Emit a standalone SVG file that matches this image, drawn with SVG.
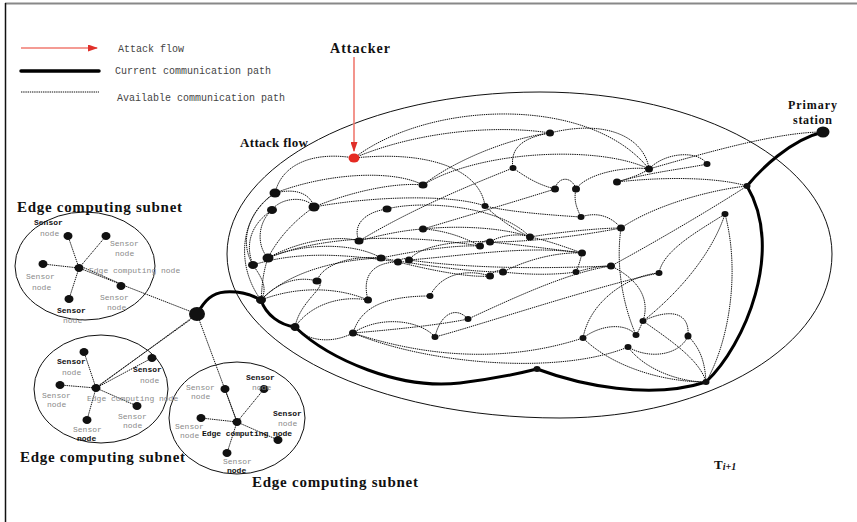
<svg xmlns="http://www.w3.org/2000/svg" width="857" height="522" viewBox="0 0 857 522">
<defs>
<marker id="ah" markerWidth="10" markerHeight="7" refX="9" refY="3.5" orient="auto" markerUnits="userSpaceOnUse">
<path d="M0,0 L10,3.5 L0,7 z" fill="#e0302a"/>
</marker>
<style>
.d{fill:none;stroke:#111;stroke-width:1;stroke-dasharray:1.4 0.8}
.th{fill:none;stroke:#000;stroke-width:3;stroke-linecap:round;stroke-linejoin:round}
.ol{fill:none;stroke:#111;stroke-width:1}
.n{fill:#111}
.g{font-family:"Liberation Mono",monospace;font-size:8px;fill:#8a8a8a}
.bb{font-family:"Liberation Mono",monospace;font-size:8px;font-weight:bold;fill:#111}
.lg{font-family:"Liberation Mono",monospace;font-size:10px;fill:#444}
.t{font-family:"Liberation Serif",serif;font-weight:bold;fill:#111}
.red{stroke:#f07a70;stroke-width:1.6;fill:none}
</style>
</defs>
<rect width="857" height="522" fill="#fff"/>
<line x1="5" y1="3.5" x2="857" y2="3.5" stroke="#888" stroke-width="2"/>
<line x1="5.5" y1="3" x2="5.5" y2="522" stroke="#111" stroke-width="1.5"/>

<g id="legend">
<line class="red" x1="21" y1="48" x2="97" y2="48" marker-end="url(#ah)"/>
<text class="lg" x="118" y="51.5">Attack flow</text>
<line x1="21" y1="71" x2="99" y2="71" stroke="#000" stroke-width="3.5" stroke-linecap="round"/>
<text class="lg" x="115" y="74">Current communication path</text>
<line class="d" x1="21" y1="92" x2="99" y2="92"/>
<text class="lg" x="117" y="101">Available communication path</text>
</g>

<text class="t" x="330" y="53" font-size="14" textLength="60">Attacker</text>
<text class="t" x="240" y="147" font-size="13" textLength="68">Attack flow</text>
<text class="t" x="17" y="212" font-size="15" textLength="165">Edge computing subnet</text>
<text class="t" x="20" y="462" font-size="15" textLength="165">Edge computing subnet</text>
<text class="t" x="252" y="487" font-size="15" textLength="166">Edge computing subnet</text>
<text class="t" x="788" y="109" font-size="12" textLength="49">Primary</text>
<text class="t" x="793" y="124" font-size="12" textLength="39">station</text>
<text class="t" x="714" y="469" font-size="13">T<tspan font-style="italic" font-size="10" dy="1">i+1</tspan></text>

<path class="ol" d="M227,254 C227,164.5 367,92 540,92 C701,92 832,164.5 832,254 C832,345 710,418 560,418 C376,418 227,345 227,254 Z"/>
<ellipse class="ol" cx="85" cy="266" rx="70" ry="54"/>
<ellipse class="ol" cx="101" cy="389" rx="67" ry="54"/>
<ellipse class="ol" cx="237" cy="418" rx="68" ry="56"/>

<g id="connectors">
<line class="red" x1="354" y1="57" x2="354" y2="151" marker-end="url(#ah)"/>
<path class="th" d="M197,314 C205,300 212,293 225,292 C240,291 252,295 261,300 C266,315 280,325 295,327 C330,360 400,390 460,383 C500,378 525,372 537,369 C580,385 650,400 706,382 C745,345 785,250 747,186 C760,170 790,140 823,132"/>
<path class="d" d="M68,236 L79,268 M106,236 L79,268 M43,264 L79,268 M69,299 L79,268 M79,268 L197,314 M80,266 L121,284"/>
<path class="d" d="M84,352 L96,388 M60,385 L96,388 M137,406 L96,388 M87,420 L96,388 M96,388 L152,358 M96,388 L197,314 M98,386 L190,320"/>
<path class="d" d="M225,389 L237,422 M264,389 L237,422 M201,418 L237,422 M278,440 L237,422 M227,453 L237,422 M237,422 L197,314"/>
<path class="d" d="M354,158 C430,100 590,95 649,169"/>
<path class="d" d="M354,158 C420,130 500,125 550,133"/>
<path class="d" d="M354,158 C430,150 480,170 485,206"/>
<path class="d" d="M275,193 C283,160 320,152 354,158"/>
<path class="d" d="M550,133 C610,118 645,140 649,169"/>
<path class="d" d="M550,133 C520,138 510,150 513,168"/>
<path class="d" d="M423,185 C455,160 510,138 550,133"/>
<path class="d" d="M423,185 C480,150 600,145 649,169"/>
<path class="d" d="M275,193 C330,172 395,170 423,185"/>
<path class="d" d="M275,193 C295,188 310,193 314,207"/>
<path class="d" d="M272,210 C280,198 305,195 314,207"/>
<path class="d" d="M314,207 C350,192 395,182 423,185"/>
<path class="d" d="M314,207 C380,195 455,195 485,206"/>
<path class="d" d="M275,193 C250,210 238,240 253,265"/>
<path class="d" d="M272,210 C258,222 256,245 268,258"/>
<path class="d" d="M314,207 C295,220 278,238 268,258"/>
<path class="d" d="M272,210 C250,225 245,245 253,265"/>
<path class="d" d="M359,241 C352,225 365,212 387,209"/>
<path class="d" d="M387,209 C420,200 500,205 530,237"/>
<path class="d" d="M359,241 C380,235 405,230 423,229"/>
<path class="d" d="M423,229 C460,225 505,228 530,237"/>
<path class="d" d="M359,241 C410,210 470,185 513,168"/>
<path class="d" d="M423,229 C470,215 520,200 555,189"/>
<path class="d" d="M513,168 C530,180 540,185 555,189"/>
<path class="d" d="M555,189 C558,176 572,176 576,189"/>
<path class="d" d="M576,189 C588,172 630,166 649,169"/>
<path class="d" d="M617,182 C630,178 640,175 649,169"/>
<path class="d" d="M649,169 C665,152 698,150 707,164"/>
<path class="d" d="M617,182 C650,172 690,168 707,164"/>
<path class="d" d="M649,169 C715,150 780,132 823,132"/>
<path class="d" d="M617,182 C670,176 720,178 747,186"/>
<path class="d" d="M581,217 C575,205 574,198 576,189"/>
<path class="d" d="M621,228 C655,205 710,190 747,186"/>
<path class="d" d="M621,228 C580,236 530,242 490,242"/>
<path class="d" d="M530,237 C560,232 600,228 621,228"/>
<path class="d" d="M581,217 C550,215 510,212 485,206"/>
<path class="d" d="M581,217 C595,212 610,215 621,228"/>
<path class="d" d="M480,246 C483,240 487,240 490,242"/>
<path class="d" d="M381,258 C420,250 455,245 480,246"/>
<path class="d" d="M490,242 C500,235 520,233 530,237"/>
<path class="d" d="M268,258 C310,240 360,245 381,258"/>
<path class="d" d="M268,258 C300,240 340,235 359,241"/>
<path class="d" d="M268,258 C330,232 420,236 480,246"/>
<path class="d" d="M253,265 C262,278 268,288 261,300"/>
<path class="d" d="M268,258 C262,275 262,290 261,300"/>
<path class="d" d="M317,281 C322,265 350,255 381,258"/>
<path class="d" d="M317,281 C295,275 275,285 261,300"/>
<path class="d" d="M261,300 C300,285 340,288 368,300"/>
<path class="d" d="M295,327 C310,305 340,295 368,300"/>
<path class="d" d="M368,300 C360,270 380,262 398,262"/>
<path class="d" d="M353,333 C360,310 380,296 430,296"/>
<path class="d" d="M353,333 C380,315 420,320 435,337"/>
<path class="d" d="M353,333 C330,345 305,340 295,327"/>
<path class="d" d="M353,333 C430,365 560,375 628,347"/>
<path class="d" d="M353,333 C420,355 500,365 583,338"/>
<path class="d" d="M430,296 C440,275 465,268 490,276"/>
<path class="d" d="M468,319 C455,305 440,315 435,337"/>
<path class="d" d="M468,319 C520,295 570,272 611,266"/>
<path class="d" d="M435,337 C480,325 600,285 659,273"/>
<path class="d" d="M398,262 C402,258 405,258 409,260"/>
<path class="d" d="M409,260 C420,245 460,240 490,242"/>
<path class="d" d="M409,260 C480,270 560,268 611,266"/>
<path class="d" d="M381,258 C420,265 470,272 503,272"/>
<path class="d" d="M490,276 C495,270 498,270 503,272"/>
<path class="d" d="M503,272 C530,258 560,252 582,253"/>
<path class="d" d="M503,272 C530,275 555,275 576,272"/>
<path class="d" d="M576,272 C590,268 600,266 611,266"/>
<path class="d" d="M582,253 C580,262 578,267 576,272"/>
<path class="d" d="M582,253 C560,245 545,240 530,237"/>
<path class="d" d="M659,273 C663,250 700,230 725,214"/>
<path class="d" d="M611,266 C650,245 710,210 747,186"/>
<path class="d" d="M725,214 C710,260 670,300 643,321"/>
<path class="d" d="M725,214 C740,270 730,340 706,382"/>
<path class="d" d="M611,266 C640,280 650,300 643,321"/>
<path class="d" d="M643,321 C670,308 690,312 688,336"/>
<path class="d" d="M643,321 C640,328 638,332 636,335"/>
<path class="d" d="M643,321 C670,340 700,360 706,382"/>
<path class="d" d="M621,228 C615,270 625,310 636,335"/>
<path class="d" d="M583,338 C600,325 625,322 636,335"/>
<path class="d" d="M628,347 C650,360 680,355 688,336"/>
<path class="d" d="M628,347 C645,370 680,382 706,382"/>
<path class="d" d="M583,338 C610,365 660,382 706,382"/>
<path class="d" d="M583,338 C590,300 630,275 659,273"/>
<path class="d" d="M688,336 C702,350 705,365 706,382"/>
<path class="d" d="M353,333 C390,330 440,325 468,319"/>
<path class="d" d="M485,206 C500,220 515,230 530,237"/>
<path class="d" d="M261,300 C235,265 240,215 275,193"/>
<path class="d" d="M261,300 C285,275 330,260 381,258"/>
<path class="d" d="M253,265 C300,250 350,255 398,262"/>
<path class="d" d="M398,262 C430,270 470,278 490,276"/>
<path class="d" d="M490,242 C520,245 560,250 582,253"/>
<path class="d" d="M480,246 C460,235 440,230 423,229"/>
<path class="d" d="M409,260 C470,255 530,245 582,253"/>
<path class="d" d="M295,327 C300,300 330,285 317,281"/>
</g>

<g id="attacker"><ellipse cx="354" cy="158" rx="5.5" ry="4.5" fill="#e52a22"/></g>
<g id="primary-station"><ellipse class="n" cx="823" cy="132" rx="6.5" ry="5.5"/></g>
<g id="big-node"><ellipse class="n" cx="197" cy="314" rx="8" ry="7"/></g>
<g id="n1"><ellipse class="n" cx="550" cy="133" rx="4" ry="3.5"/></g>
<g id="n2"><ellipse class="n" cx="513" cy="168" rx="3.5" ry="3"/></g>
<g id="n3"><ellipse class="n" cx="649" cy="169" rx="4" ry="3.5"/></g>
<g id="n4"><ellipse class="n" cx="707" cy="164" rx="3.5" ry="3"/></g>
<g id="n5"><ellipse class="n" cx="275" cy="193" rx="5.5" ry="4.5"/></g>
<g id="n6"><ellipse class="n" cx="423" cy="185" rx="4.5" ry="3.5"/></g>
<g id="n7"><ellipse class="n" cx="272" cy="210" rx="5" ry="4"/></g>
<g id="n8"><ellipse class="n" cx="314" cy="207" rx="5.5" ry="4.5"/></g>
<g id="n9"><ellipse class="n" cx="387" cy="209" rx="4.5" ry="3.5"/></g>
<g id="n10"><ellipse class="n" cx="485" cy="206" rx="3.5" ry="3"/></g>
<g id="n11"><ellipse class="n" cx="555" cy="189" rx="4" ry="3.5"/></g>
<g id="n12"><ellipse class="n" cx="576" cy="189" rx="4" ry="3.5"/></g>
<g id="n13"><ellipse class="n" cx="617" cy="182" rx="4" ry="3.5"/></g>
<g id="j1"><ellipse class="n" cx="747" cy="186" rx="3.5" ry="3"/></g>
<g id="n14"><ellipse class="n" cx="423" cy="229" rx="4" ry="3.5"/></g>
<g id="n15"><ellipse class="n" cx="581" cy="217" rx="3.5" ry="3"/></g>
<g id="n16"><ellipse class="n" cx="725" cy="214" rx="3.5" ry="3"/></g>
<g id="n17"><ellipse class="n" cx="359" cy="241" rx="4.5" ry="3.5"/></g>
<g id="n18"><ellipse class="n" cx="530" cy="237" rx="4" ry="3.5"/></g>
<g id="n19"><ellipse class="n" cx="480" cy="246" rx="4" ry="3.5"/></g>
<g id="n20"><ellipse class="n" cx="490" cy="242" rx="4" ry="3.5"/></g>
<g id="n21"><ellipse class="n" cx="621" cy="228" rx="4" ry="3.5"/></g>
<g id="n22"><ellipse class="n" cx="268" cy="258" rx="5.5" ry="4.5"/></g>
<g id="n23"><ellipse class="n" cx="253" cy="265" rx="5" ry="4"/></g>
<g id="n24"><ellipse class="n" cx="381" cy="258" rx="4.5" ry="3.5"/></g>
<g id="n25"><ellipse class="n" cx="398" cy="262" rx="4" ry="3.5"/></g>
<g id="n26"><ellipse class="n" cx="409" cy="260" rx="4" ry="3.5"/></g>
<g id="n27"><ellipse class="n" cx="582" cy="253" rx="4" ry="3.5"/></g>
<g id="n28"><ellipse class="n" cx="317" cy="281" rx="4.5" ry="3.5"/></g>
<g id="n29"><ellipse class="n" cx="490" cy="276" rx="4" ry="3.5"/></g>
<g id="n30"><ellipse class="n" cx="503" cy="272" rx="4" ry="3.5"/></g>
<g id="n31"><ellipse class="n" cx="576" cy="272" rx="3.5" ry="3"/></g>
<g id="n32"><ellipse class="n" cx="611" cy="266" rx="4" ry="3.5"/></g>
<g id="n33"><ellipse class="n" cx="659" cy="273" rx="3.5" ry="3"/></g>
<g id="t1"><ellipse class="n" cx="261" cy="300" rx="5" ry="4"/></g>
<g id="n34"><ellipse class="n" cx="368" cy="300" rx="4" ry="3.5"/></g>
<g id="n35"><ellipse class="n" cx="430" cy="296" rx="3.5" ry="3"/></g>
<g id="t2"><ellipse class="n" cx="295" cy="327" rx="4.5" ry="4"/></g>
<g id="n36"><ellipse class="n" cx="353" cy="333" rx="4" ry="3.5"/></g>
<g id="n37"><ellipse class="n" cx="468" cy="319" rx="3.5" ry="3"/></g>
<g id="n38"><ellipse class="n" cx="435" cy="337" rx="3.5" ry="3"/></g>
<g id="n39"><ellipse class="n" cx="643" cy="321" rx="3.5" ry="3"/></g>
<g id="n40"><ellipse class="n" cx="636" cy="335" rx="3.5" ry="3"/></g>
<g id="n41"><ellipse class="n" cx="688" cy="336" rx="3.5" ry="3.5"/></g>
<g id="n42"><ellipse class="n" cx="628" cy="347" rx="3.5" ry="3"/></g>
<g id="n43"><ellipse class="n" cx="583" cy="338" rx="3.5" ry="3"/></g>
<g id="t3"><ellipse class="n" cx="537" cy="369" rx="3.5" ry="3"/></g>
<g id="j2"><ellipse class="n" cx="706" cy="382" rx="3.5" ry="3"/></g>

<g id="subnet1">
<g id="s1-hub"><ellipse class="n" cx="79" cy="268" rx="4.5" ry="4"/><text class="g" x="89" y="273">Edge computing node</text></g>
<g id="s1-a"><ellipse class="n" cx="68" cy="236" rx="4.5" ry="4"/><text class="bb" x="34" y="225">Sensor</text><text class="g" x="40" y="236">node</text></g>
<g id="s1-b"><ellipse class="n" cx="106" cy="236" rx="4.5" ry="4"/><text class="g" x="110" y="246">Sensor</text><text class="g" x="115" y="256">node</text></g>
<g id="s1-c"><ellipse class="n" cx="43" cy="264" rx="4.5" ry="4"/><text class="g" x="26" y="279">Sensor</text><text class="g" x="32" y="290">node</text></g>
<g id="s1-d"><ellipse class="n" cx="121" cy="286" rx="4.5" ry="4"/><text class="g" x="100" y="300">Sensor</text><text class="g" x="107" y="310">node</text></g>
<g id="s1-e"><ellipse class="n" cx="69" cy="299" rx="4.5" ry="4"/><text class="bb" x="57" y="313">Sensor</text><text class="g" x="63" y="323">node</text></g>
</g>

<g id="subnet2">
<g id="s2-hub"><ellipse class="n" cx="96" cy="388" rx="4.5" ry="4"/><text class="g" x="87" y="401">Edge computing node</text></g>
<g id="s2-a"><ellipse class="n" cx="84" cy="352" rx="4.5" ry="4"/><text class="bb" x="57" y="364">Sensor</text><text class="g" x="62" y="375">node</text></g>
<g id="s2-b"><ellipse class="n" cx="152" cy="358" rx="4.5" ry="4"/><text class="bb" x="133" y="372">Sensor</text><text class="g" x="140" y="383">node</text></g>
<g id="s2-c"><ellipse class="n" cx="60" cy="385" rx="4.5" ry="4"/><text class="g" x="42" y="398">Sensor</text><text class="g" x="47" y="407">node</text></g>
<g id="s2-d"><ellipse class="n" cx="137" cy="406" rx="4.5" ry="4"/><text class="g" x="118" y="419">Sensor</text><text class="g" x="123" y="428">node</text></g>
<g id="s2-e"><ellipse class="n" cx="87" cy="420" rx="4.5" ry="4"/><text class="g" x="73" y="432">Sensor</text><text class="bb" x="77" y="441">node</text></g>
</g>

<g id="subnet3">
<g id="s3-hub"><ellipse class="n" cx="237" cy="422" rx="4.5" ry="4"/><text class="bb" x="202" y="436" textLength="90">Edge computing node</text></g>
<g id="s3-a"><ellipse class="n" cx="225" cy="389" rx="4.5" ry="4"/><text class="g" x="186" y="390">Sensor</text><text class="g" x="191" y="399">node</text></g>
<g id="s3-b"><ellipse class="n" cx="264" cy="389" rx="4.5" ry="4"/><text class="bb" x="246" y="380">Sensor</text><text class="g" x="252" y="390">node</text></g>
<g id="s3-c"><ellipse class="n" cx="278" cy="440" rx="4.5" ry="4"/><text class="bb" x="273" y="416">Sensor</text><text class="g" x="278" y="426">node</text></g>
<g id="s3-d"><ellipse class="n" cx="201" cy="418" rx="4.5" ry="4"/><text class="g" x="175" y="429">Sensor</text><text class="g" x="180" y="438">node</text></g>
<g id="s3-e"><ellipse class="n" cx="227" cy="453" rx="4.5" ry="4"/><text class="g" x="223" y="464">Sensor</text><text class="bb" x="227" y="473">node</text></g>
</g>
</svg>
